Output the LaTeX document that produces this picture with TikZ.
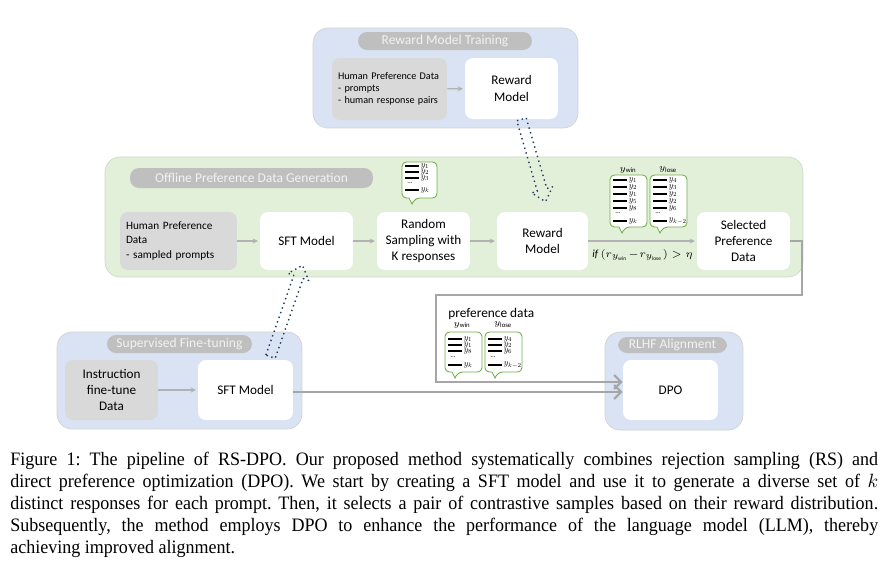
\documentclass[tikz,border=0pt]{standalone}
\usepackage{fontspec}
\usepackage{tikz}
\usetikzlibrary{calc,arrows.meta}
\setmainfont{Carlito}
\newfontfamily\capfont[FakeStretch=0.95]{Liberation Serif}

\definecolor{panelblue}{HTML}{DAE3F3}
\definecolor{panelgreen}{HTML}{E2F0D9}
\definecolor{boxgray}{HTML}{D9D9D9}
\definecolor{pillgray}{HTML}{BFBFBF}
\definecolor{arrowblue}{HTML}{203864}
\definecolor{bubblegreen}{HTML}{70AD47}

\tikzstyle{panel} = [draw=gray!35, line width=0.4pt, rounded corners=0.3cm, inner sep=0pt]
\tikzstyle{pill} = [fill=pillgray, text=white!95!black, rounded corners=0.18cm, inner sep=0pt, font=\fontsize{7.7}{9}\selectfont]
\tikzstyle{databox} = [fill=boxgray, rounded corners=0.16cm, inner sep=0.12cm, align=left]
\tikzstyle{modelbox} = [fill=white, rounded corners=0.16cm, inner sep=0pt, align=center, font=\fontsize{7.5}{9.2}\selectfont]
\tikzstyle{flow} = [draw=gray!60, line width=0.7pt, -{Stealth[length=3pt,width=3pt]}, shorten >=1pt]
\tikzstyle{bigflow} = [draw=gray!70, line width=1.2pt, -{Straight Barb[length=4pt,width=8pt]}]
\tikzstyle{hollow} = [draw=arrowblue, line width=0.8pt, dotted, line join=round]
\tikzstyle{bubbleline} = [draw=bubblegreen, fill=white, line width=0.5pt]
\tikzstyle{respline} = [line width=1.3pt]
\tikzstyle{resplab} = [anchor=west, inner sep=0pt, xshift=0.4pt]

% speech bubble: x1 y1 x2 y2 tail-x
\newcommand{\bubble}[5]{%
  \draw[bubbleline] ({(#1+#3)/2},#2) [rounded corners=2.5pt] -- (#3,#2) -- (#3,#4) -- (#5+3,#4)
    [sharp corners] -- (#5,#4+6) -- (#5-3,#4) [rounded corners=2.5pt] -- (#1,#4) -- (#1,#2) -- cycle;}

% list of responses: x, top y, row step, labels, y of dots, y of last row, last label
\newcommand{\resplist}[7]{%
  \foreach \lab [count=\i] in {#4}
    \draw[respline] (#1,{#2+(\i-1)*#3}) -- ++(14,0) node[resplab] {\scalebox{0.5}{$\lab$}};
  \node[anchor=west, inner sep=0pt, font=\fontsize{4}{4}\selectfont] at (#1+2,#5-1) {...};
  \draw[respline] (#1,#6) -- ++(14,0) node[resplab] {\scalebox{0.5}{$#7$}};}

% hollow dotted arrow from #1 to #2
\newcommand{\hollowarrow}[2]{%
  \coordinate (hc) at ($(#2)!7pt!(#1)$);
  \draw[hollow] ($(#1)!2.8pt!90:(#2)$) -- ($(hc)!2.8pt!90:(#2)$) -- ($(hc)!6.2pt!90:(#2)$) -- (#2)
    -- ($(hc)!6.2pt!-90:(#2)$) -- ($(hc)!2.8pt!-90:(#2)$) -- ($(#1)!2.8pt!-90:(#2)$) -- cycle;}

\begin{document}
\begin{tikzpicture}[x=0.02cm, y=-0.02cm]
  \fill[white] (0,0) rectangle (889,569);
  \useasboundingbox (0,0) rectangle (889,569);

  % panels
  \node[panel, fill=panelblue, minimum width=5.3cm, minimum height=2cm] (rmtpanel) at (445.5,78) {};
  \node[panel, fill=panelgreen, draw=panelgreen!80!gray, minimum width=13.96cm, minimum height=2.4cm] (opdpanel) at (454,217) {};
  \node[panel, fill=panelblue, minimum width=4.9cm, minimum height=1.94cm] (sftpanel) at (179.5,380.5) {};
  \node[panel, fill=panelblue, minimum width=2.76cm, minimum height=1.96cm] (rlhfpanel) at (674,381) {};

  \node[pill, minimum width=3.48cm, minimum height=0.36cm] (rmttitle) at (445,41) {Reward Model Training};
  \node[pill, minimum width=4.86cm, minimum height=0.4cm] (opdtitle) at (251.5,178) {Offline Preference Data Generation};
  \node[pill, minimum width=2.9cm, minimum height=0.36cm] (sfttitle) at (179.5,344) {Supervised Fine-tuning};
  \node[pill, minimum width=2.18cm, minimum height=0.32cm] (rlhftitle) at (672.5,345) {RLHF Alignment};

  % reward model training
  \node[databox, text width=2.06cm, minimum height=1.24cm, font=\fontsize{5.8}{7}\selectfont] (rmdata) at (389.5,89)
    {Human Preference Data\\- prompts\\- human response pairs};
  \node[modelbox, minimum width=1.86cm, minimum height=1.22cm] (rmtop) at (511.5,88.5) {Reward\\Model};

  % offline generation
  \node[databox, text width=2.1cm, minimum height=1.16cm, font=\fontsize{6.4}{8.2}\selectfont] (hpd) at (178.5,241)
    {Human Preference\\Data\\- sampled prompts};
  \node[modelbox, minimum width=1.86cm, minimum height=1.16cm] (sft) at (306.5,241) {SFT Model};
  \node[modelbox, minimum width=1.86cm, minimum height=1.16cm] (rs) at (423.5,241) {Random\\Sampling with\\K responses};
  \node[modelbox, minimum width=1.82cm, minimum height=1.16cm] (rm) at (542.5,241) {Reward\\Model};
  \node[modelbox, minimum width=1.86cm, minimum height=1.16cm] (spd) at (743.5,241) {Selected\\Preference\\Data};

  % supervised fine-tuning and alignment
  \node[databox, align=center, minimum width=1.86cm, minimum height=1.2cm, inner sep=0pt, font=\fontsize{7.5}{9.2}\selectfont] (inst) at (111.5,390)
    {Instruction\\fine-tune\\Data};
  \node[modelbox, minimum width=1.9cm, minimum height=1.2cm] (sftb) at (245.5,390) {SFT Model};
  \node[modelbox, minimum width=1.9cm, minimum height=1.2cm] (dpo) at (670.5,390) {DPO};

  % arrows
  \draw[flow] (rmdata) -- (rmtop);
  \draw[flow] (hpd) -- (sft);
  \draw[flow] (sft) -- (rs);
  \draw[flow] (rs) -- (rm);
  \draw[flow] (rm) -- (spd) node[midway, below=1pt, font=\fontsize{6.2}{7}\selectfont]
    {$\mathit{if}\ (r_{y_{\mathrm{win}}}\!-\!r_{y_{\mathrm{lose}}}) > \eta$};
  \draw[flow] (inst) -- (sftb);

  \coordinate (turn1) at (802,295);
  \coordinate (turn2) at (436,295);
  \draw[bigflow] (spd.east) -| (turn1) -- (turn2) |- ($(dpo.west)+(0,-8)$);
  \draw[bigflow] ($(sftb.east)+(0,2)$) -- ($(dpo.west)+(0,2)$);

  \hollowarrow{$(rmtop.south)+(10,0)$}{$(rm.north)+(3,-10)$}
  \hollowarrow{$(sftb.north)+(25,-3)$}{$(sft.south)+(-4,-5)$}

  % sampled responses
  \bubble{402}{162}{437}{198}{412}
  \resplist{405}{166}{6}{y_1,y_2,y_3}{184}{190}{y_k}

  \node[font=\fontsize{5.5}{6}\selectfont] (winlab) at (628,170) {$y_{\mathrm{win}}$};
  \node[font=\fontsize{5.5}{6}\selectfont] (loselab) at (668,170) {$y_{\mathrm{lose}}$};
  \bubble{610}{175}{647}{227}{622}
  \resplist{613}{180}{7}{y_1,y_2,y_1,y_5,y_8}{214}{221}{y_k}
  \bubble{650}{175}{687}{227}{660}
  \resplist{653}{180}{7}{y_4,y_3,y_2,y_2,y_6}{214}{221}{y_{k-2}}

  % preference data
  \node[anchor=west, inner sep=0pt, font=\fontsize{7.6}{9}\selectfont] (preflab) at (448,314) {preference data};
  \node[font=\fontsize{5.5}{6}\selectfont] (winlab2) at (462,325) {$y_{\mathrm{win}}$};
  \node[font=\fontsize{5.5}{6}\selectfont] (loselab2) at (503,325) {$y_{\mathrm{lose}}$};
  \bubble{445}{332}{482}{372}{455}
  \resplist{448}{339}{6}{y_1,y_1,y_8}{358}{365}{y_k}
  \bubble{485}{332}{522}{372}{495}
  \resplist{488}{339}{6}{y_4,y_2,y_6}{358}{365}{y_{k-2}}

  % caption
  \node[anchor=north west, inner sep=0pt, text width=17.36cm, align=justify, font=\capfont\fontsize{10.8}{12.5}\selectfont\frenchspacing] (caption) at (10,452)
    {Figure 1: The pipeline of RS-DPO. Our proposed method systematically combines rejection sampling (RS) and\linebreak
     direct preference optimization (DPO). We start by creating a SFT model and use it to generate a diverse set of $k$\linebreak
     distinct responses for each prompt. Then, it selects a pair of contrastive samples based on their reward distribution.\linebreak
     Subsequently, the method employs DPO to enhance the performance of the language model (LLM), thereby\linebreak
     achieving improved alignment.};
\end{tikzpicture}
\end{document}
